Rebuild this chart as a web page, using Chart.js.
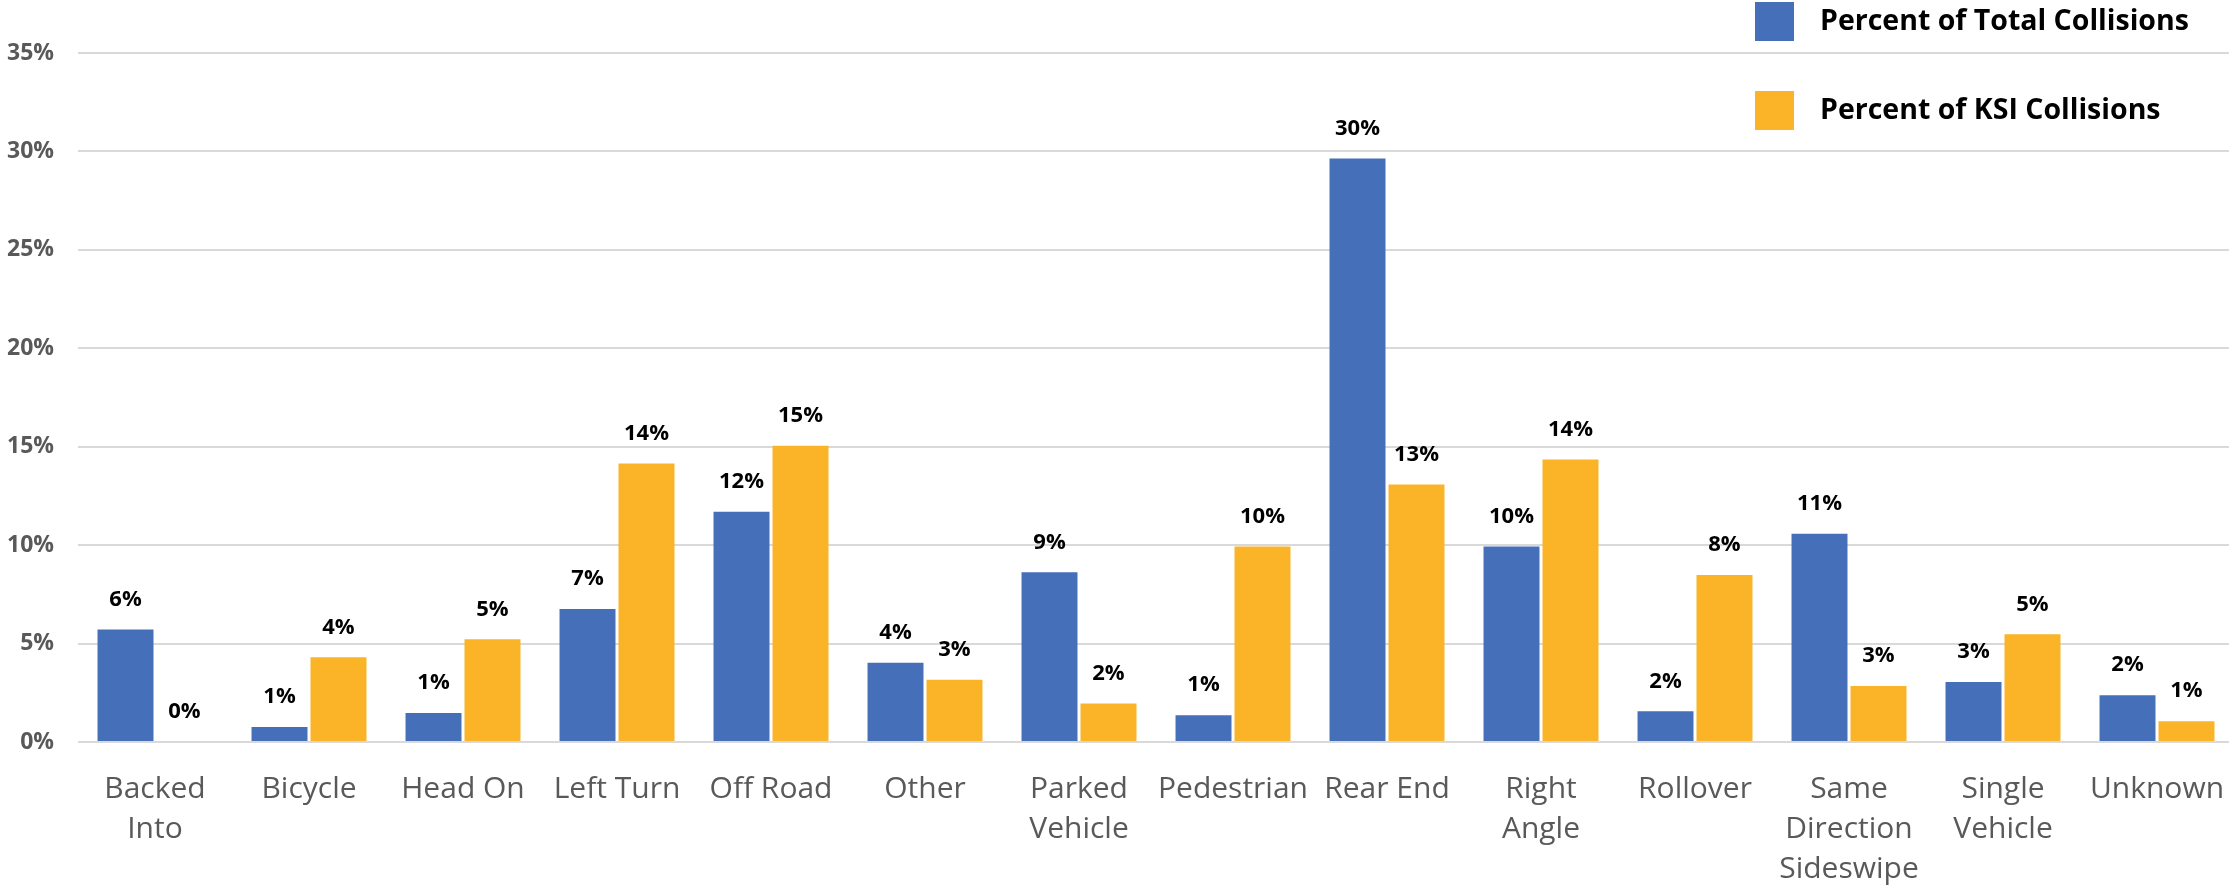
<!DOCTYPE html>
<html>
<head>
<meta charset="utf-8">
<title>Collision Types</title>
<script src="https://cdn.jsdelivr.net/npm/chart.js@4.4.1/dist/chart.umd.min.js"></script>
<style>
  html, body { margin: 0; padding: 0; background: #fff; overflow: hidden; }
  canvas { display: block; }
</style>
</head>
<body>
<canvas id="collisionChart" width="2234" height="889"></canvas>
<script>
// collision types and their share (%) of all collisions / KSI collisions
const categories = [
  ['Backed', 'Into'], 'Bicycle', 'Head On', 'Left Turn', 'Off Road', 'Other',
  ['Parked', 'Vehicle'], 'Pedestrian', 'Rear End', ['Right', 'Angle'], 'Rollover',
  ['Same', 'Direction', 'Sideswipe'], ['Single', 'Vehicle'], 'Unknown'
];
const totalPct = [5.72, 0.76, 1.47, 6.75, 11.7, 4.03, 8.62, 1.36, 29.64, 9.93, 1.56, 10.58, 3.05, 2.38];
const ksiPct   = [0.0, 4.3, 5.22, 14.15, 15.05, 3.16, 1.95, 9.93, 13.08, 14.35, 8.48, 2.85, 5.47, 1.06];
const yTicks = { min: 0, max: 35, step: 5 };

const BLUE = '#4570B9';
const GOLD = '#FBB427';

// value labels above each bar
const barLabels = {
  id: 'barLabels',
  afterDatasetsDraw(chart) {
    const ctx = chart.ctx;
    ctx.save();
    ctx.font = 'bold 22px "Open Sans"';
    ctx.fillStyle = '#000';
    ctx.textAlign = 'center';
    ctx.textBaseline = 'middle';
    chart.data.datasets.forEach((ds, i) => {
      chart.getDatasetMeta(i).data.forEach((bar, j) => {
        ctx.fillText(Math.round(ds.data[j]) + '%', bar.x, bar.y - 30);
      });
    });
    ctx.restore();
  }
};

// stacked legend in the top right corner
const cornerLegend = {
  id: 'cornerLegend',
  afterDraw(chart) {
    const ctx = chart.ctx;
    ctx.save();
    ctx.font = 'bold 28.5px "Open Sans"';
    ctx.textBaseline = 'alphabetic';
    ctx.textAlign = 'left';
    const rows = [2, 91];
    chart.data.datasets.forEach((ds, i) => {
      const y = rows[i];
      ctx.fillStyle = ds.backgroundColor;
      ctx.fillRect(1755, y, 39, 39);
      ctx.fillStyle = '#000';
      ctx.fillText(ds.label, 1820, y + 28);
    });
    ctx.restore();
  }
};

new Chart(document.getElementById('collisionChart'), {
  type: 'bar',
  data: {
    labels: categories,
    datasets: [
      { label: 'Percent of Total Collisions', data: totalPct, backgroundColor: BLUE },
      { label: 'Percent of KSI Collisions', data: ksiPct, backgroundColor: GOLD }
    ]
  },
  options: {
    responsive: false,
    animation: false,
    categoryPercentage: 0.766,
    barPercentage: 0.949,
    layout: { padding: { top: 53, left: 0, right: 0, bottom: 0 } },
    plugins: {
      legend: { display: false },
      tooltip: { enabled: false }
    },
    scales: {
      x: {
        grid: { display: false, drawTicks: false },
        border: { display: false },
        ticks: {
          color: '#595959',
          font: { family: 'Open Sans', size: 30, lineHeight: 40 / 30 },
          padding: 27,
          maxRotation: 0,
          autoSkip: false
        },
        afterFit(scale) {
          scale.height = 147;
          // let the plot run right up to the canvas edge
          scale.paddingLeft = 0;
          scale.paddingRight = 0;
        }
      },
      y: {
        min: yTicks.min,
        max: yTicks.max,
        grid: { color: '#d9d9d9', lineWidth: 2, drawTicks: false },
        border: { display: false },
        ticks: {
          stepSize: yTicks.step,
          color: '#595959',
          font: { family: 'Open Sans', size: 23, weight: 'bold' },
          padding: 24,
          callback: v => v + '%'
        },
        afterFit(scale) { scale.width = 78; }
      }
    }
  },
  plugins: [barLabels, cornerLegend]
});
</script>
</body>
</html>
